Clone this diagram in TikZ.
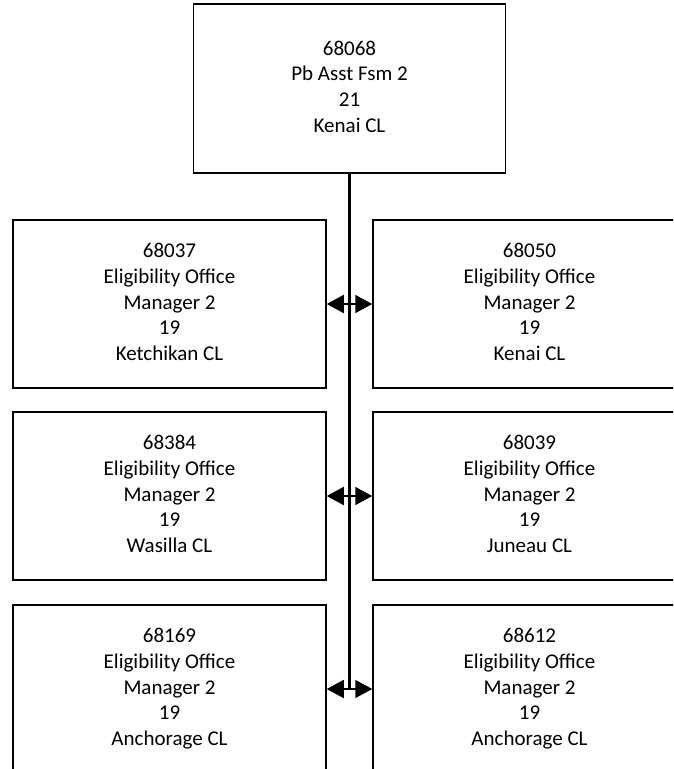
\documentclass[tikz,border=0pt]{standalone}
\usepackage{fontspec}
\setmainfont{Carlito}
\usetikzlibrary{arrows.meta}
\newcommand\boxlbl[1]{{\fontsize{21}{25.6}\selectfont\begin{tabular}{@{}c@{}}#1\end{tabular}}}
\begin{document}
\begin{tikzpicture}[x=1pt,y=-1pt,
  posbox/.style={draw=black, line width=1.5pt, fill=white, inner sep=0pt, minimum width=313pt, minimum height=168pt, align=center},
  trunk/.style={draw=black, line width=3pt},
  conn/.style={draw=black, line width=1.6pt, {Triangle[length=17pt,width=18pt]}-{Triangle[length=17pt,width=18pt]}}]
\useasboundingbox (0,0) rectangle (673,769);
\clip (0,0) rectangle (673,769);
\node[posbox, minimum width=312pt, minimum height=169pt] (top) at (349.5,88.5) {\boxlbl{68068\\Pb Asst Fsm 2\\21\\Kenai CL}};
\node[posbox] (l1) at (169.5,304) {\boxlbl{68037\\Eligibility Office\\Manager 2\\19\\Ketchikan CL}};
\node[posbox] (r1) at (529.5,304) {\boxlbl{68050\\Eligibility Office\\Manager 2\\19\\Kenai CL}};
\node[posbox] (l2) at (169.5,496) {\boxlbl{68384\\Eligibility Office\\Manager 2\\19\\Wasilla CL}};
\node[posbox] (r2) at (529.5,496) {\boxlbl{68039\\Eligibility Office\\Manager 2\\19\\Juneau CL}};
\node[posbox] (l3) at (169.5,689) {\boxlbl{68169\\Eligibility Office\\Manager 2\\19\\Anchorage CL}};
\node[posbox] (r3) at (529.5,689) {\boxlbl{68612\\Eligibility Office\\Manager 2\\19\\Anchorage CL}};
\coordinate (trunkend) at (top.south |- l3.east);
\draw[trunk] (top.south) -- (trunkend);
\draw[conn] (l1.east) -- (r1.west);
\draw[conn] (l2.east) -- (r2.west);
\draw[conn] (l3.east) -- (r3.west);
\end{tikzpicture}
\end{document}
